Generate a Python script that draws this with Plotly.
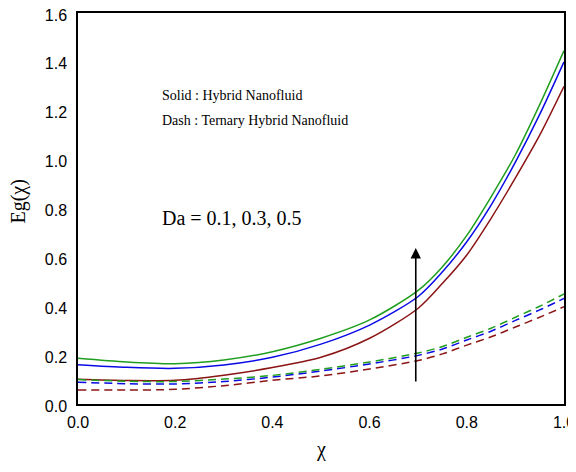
import plotly.graph_objects as go

x = [0, 0.1, 0.2, 0.3, 0.4, 0.5, 0.6, 0.7, 0.75, 0.8, 0.85, 0.9, 0.95, 1.0]

# Solid: Hybrid Nanofluid
hyb_da01 = [0.101, 0.096, 0.097, 0.118, 0.149, 0.191, 0.269, 0.392, 0.494, 0.61, 0.76, 0.925, 1.10, 1.30]
hyb_da03 = [0.161, 0.150, 0.146, 0.160, 0.191, 0.245, 0.323, 0.440, 0.541, 0.664, 0.814, 0.99, 1.185, 1.40]
hyb_da05 = [0.187, 0.172, 0.165, 0.180, 0.214, 0.269, 0.344, 0.465, 0.562, 0.69, 0.848, 1.02, 1.225, 1.446]

# Dash: Ternary Hybrid Nanofluid
ter_da01 = [0.057, 0.057, 0.060, 0.075, 0.097, 0.115, 0.143, 0.178, 0.205, 0.241, 0.275, 0.315, 0.355, 0.398]
ter_da03 = [0.089, 0.083, 0.082, 0.092, 0.110, 0.135, 0.164, 0.199, 0.225, 0.262, 0.298, 0.342, 0.385, 0.432]
ter_da05 = [0.100, 0.093, 0.092, 0.102, 0.117, 0.142, 0.172, 0.209, 0.235, 0.273, 0.310, 0.355, 0.400, 0.450]

arrow_x = 0.695
arrow_y0 = 0.086
arrow_y1 = 0.638

red = "#8b1414"
blue = "#0a0ae6"
green = "#1f9e1f"

fig = go.Figure()
for ys, c in [(hyb_da01, red), (hyb_da03, blue), (hyb_da05, green)]:
    fig.add_trace(go.Scatter(x=x, y=ys, mode="lines", line=dict(color=c, width=1.5, shape="spline", smoothing=0.8), showlegend=False))
for ys, c in [(ter_da01, red), (ter_da03, blue), (ter_da05, green)]:
    fig.add_trace(go.Scatter(x=x, y=ys, mode="lines", line=dict(color=c, width=1.5, dash="8px,5px", shape="spline", smoothing=0.8), showlegend=False))

tf = "Liberation Serif, Times New Roman, serif"
fig.add_annotation(x=arrow_x, y=arrow_y1, ax=arrow_x, ay=arrow_y0, xref="x", yref="y", axref="x", ayref="y",
                   showarrow=True, arrowhead=2, arrowsize=1.3, arrowwidth=1.6, arrowcolor="black", text="")
fig.add_annotation(x=0.169, y=1.264, xref="x", yref="y", xanchor="left", showarrow=False,
                   text="Solid : Hybrid Nanofluid", font=dict(family=tf, size=14, color="black"))
fig.add_annotation(x=0.169, y=1.162, xref="x", yref="y", xanchor="left", showarrow=False,
                   text="Dash : Ternary Hybrid Nanofluid", font=dict(family=tf, size=14, color="black"))
fig.add_annotation(x=0.169, y=0.761, xref="x", yref="y", xanchor="left", showarrow=False,
                   text="Da = 0.1, 0.3, 0.5", font=dict(family=tf, size=20, color="black"))
fig.add_annotation(x=-0.122, y=0.517, xref="paper", yref="paper", xanchor="center", yanchor="middle",
                   showarrow=False, textangle=-90,
                   text="Eg(χ)", font=dict(family=tf, size=20, color="black"))
fig.add_annotation(x=0.5, y=-0.117, xref="paper", yref="paper", xanchor="center", yanchor="middle",
                   showarrow=False, text="χ", font=dict(family=tf, size=20, color="black"))

axis_common = dict(showline=True, linecolor="black", linewidth=1.5, mirror=True, showgrid=False, automargin=False,
                   zeroline=False, ticks="", ticklabeloverflow="allow",
                   tickfont=dict(family="Liberation Sans, Arial, sans-serif", size=16, color="black"))
fig.update_xaxes(range=[0, 1], tickvals=[0, 0.2, 0.4, 0.6, 0.8, 1.0], ticktext=["0.0", "0.2", "0.4", "0.6", "0.8", "1.0"],
                 ticklabelstandoff=3, **axis_common)
fig.update_yaxes(range=[0, 1.6], tickvals=[0, 0.2, 0.4, 0.6, 0.8, 1.0, 1.2, 1.4, 1.6],
                 ticktext=["0.0", "0.2", "0.4", "0.6", "0.8", "1.0", "1.2", "1.4", "1.6"],
                 ticklabelstandoff=6, ticklabelshift=2, **axis_common)
fig.update_layout(width=560, height=456, margin=dict(l=70, r=4, t=5, b=60),
                  plot_bgcolor="white", paper_bgcolor="white")
fig.write_html("out.html")
